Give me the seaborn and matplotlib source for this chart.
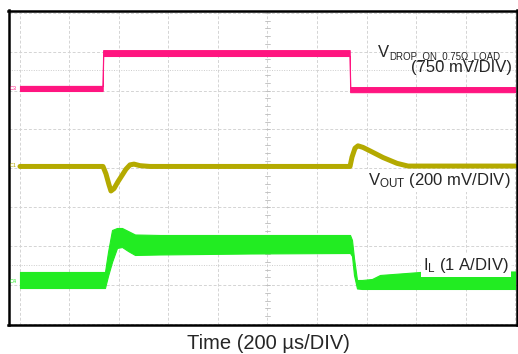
import numpy as np
import matplotlib
matplotlib.use('Agg')
import matplotlib.pyplot as plt
import seaborn as sns

# Scope screen in divisions: 10 across (200 us/div), 8 high
# V_DROP trace (magenta) - upper and lower edge of the noisy band
vdrop_t = [0.0, 1.67, 1.68, 6.66, 6.67, 10.0]
vdrop_hi = [6.12, 6.12, 7.04, 7.04, 6.09, 6.09]
vdrop_lo = [5.99, 5.99, 6.89, 6.89, 5.96, 5.96]

# V_OUT trace (olive) - centre line
vout_t = [0.0, 1.677, 1.737, 1.798, 1.838, 1.899, 1.980, 2.061, 2.141, 2.222,
          2.303, 2.424, 2.626, 6.667, 6.707, 6.768, 6.828, 6.929, 7.071, 7.333,
          7.616, 7.838, 10.0]
vout_v = [4.05, 4.05, 3.86, 3.58, 3.42, 3.48, 3.66, 3.82, 3.98, 4.09,
          4.11, 4.07, 4.05, 4.05, 4.29, 4.52, 4.58, 4.54, 4.45, 4.28,
          4.13, 4.06, 4.06]

# I_L trace (green) - upper and lower edge of the ripple band
il_t = [0.0, 1.677, 1.717, 1.778, 1.859, 1.960, 2.061, 2.182, 2.323, 2.828,
        4.646, 6.667, 6.707, 6.747, 6.808, 6.909, 7.111, 7.273, 8.081, 10.0]
il_hi = [1.337, 1.337, 1.337, 1.851, 2.416, 2.468, 2.468, 2.391, 2.301, 2.288,
         2.288, 2.288, 2.159, 1.697, 1.131, 1.131, 1.157, 1.260, 1.337, 1.350]
il_lo = [0.925, 0.925, 0.925, 1.234, 1.594, 1.954, 1.979, 1.877, 1.774, 1.787,
         1.812, 1.825, 1.748, 1.260, 0.913, 0.900, 0.900, 0.900, 0.900, 0.900]

pink = '#FF1580'
olive = '#B4AA00'
green = '#22EC22'

sns.set_style('white')
plt.rcParams['font.family'] = ['Liberation Sans', 'DejaVu Sans']
plt.rcParams['mathtext.fontset'] = 'custom'
plt.rcParams['mathtext.rm'] = 'Liberation Sans'
plt.rcParams['mathtext.it'] = 'Liberation Sans:italic'
plt.rcParams['mathtext.bf'] = 'Liberation Sans:bold'

fig = plt.figure(figsize=(5.18, 3.54), dpi=100)
W, H = 518, 354
ax = fig.add_axes([8.5 / W, 1 - 324.5 / H, 508 / W, 314 / H])
ax.set_xlim(-0.232, 10.03)
ax.set_ylim(-0.013, 8.059)

# graticule
for gx in range(11):
    ax.axvline(gx, color='#D4D4D4', lw=0.7, ls=(0, (3, 2)), zorder=0)
for gy in range(9):
    ax.axhline(gy, color='#D4D4D4', lw=0.7, ls=(0, (3, 2)), zorder=0)
# centre axis minor ticks
for ty in np.arange(0, 8.01, 0.2):
    ax.plot([4.95, 5.05], [ty, ty], color='#BBBBBB', lw=0.6, zorder=0)
for lvl in [6.53, 1.52]:
    ax.axhline(lvl, color='#CCCCCC', lw=0.7, ls=(0, (1, 1.5)), zorder=0)

# traces
ax.fill_between(vdrop_t, vdrop_lo, vdrop_hi, color=pink, lw=0.8, ec=pink, zorder=2)
sns.lineplot(x=vout_t, y=vout_v, ax=ax, color=olive, lw=3.6, sort=False, zorder=2)
ax.fill_between(il_t, il_lo, il_hi, color=green, lw=0.8, ec=green, zorder=2)

# channel markers
ax.text(-0.14, 6.05, 'C3', color=pink, fontsize=4, va='center', ha='center')
ax.text(-0.14, 4.08, 'C1', color=olive, fontsize=4, va='center', ha='center')
ax.text(-0.14, 1.08, 'C4', color=green, fontsize=4, va='center', ha='center')

# labels
ax.text(7.23, 6.86, 'V', fontsize=12, va='baseline', ha='left', zorder=4)
ax.text(7.45, 6.82, 'DROP_ON_0.75Ω_LOAD', fontsize=7, va='baseline',
        ha='left', zorder=4)
ax.text(9.94, 6.48, '(750 mV/DIV)', fontsize=12, va='baseline', ha='right', zorder=4)
ax.text(7.03, 3.57, r'V$_{\mathrm{OUT}}$ (200 mV/DIV)', fontsize=12, va='baseline',
        ha='left', zorder=4,
        bbox=dict(facecolor='white', edgecolor='none', pad=1.5))
ax.text(8.14, 1.39, r'I$_{\mathrm{L}}$ (1 A/DIV)', fontsize=12, va='baseline',
        ha='left', zorder=4,
        bbox=dict(facecolor='white', edgecolor='none', pad=1.5))

ax.set_xticks([])
ax.set_yticks([])
for s in ax.spines.values():
    s.set_color('black')
    s.set_linewidth(1.8)
    s.set_visible(True)

fig.text(268 / W, 1 - 349 / H, 'Time (200 µs/DIV)', fontsize=14.5,
         ha='center', va='baseline')

fig.savefig('out.png', dpi=100)
